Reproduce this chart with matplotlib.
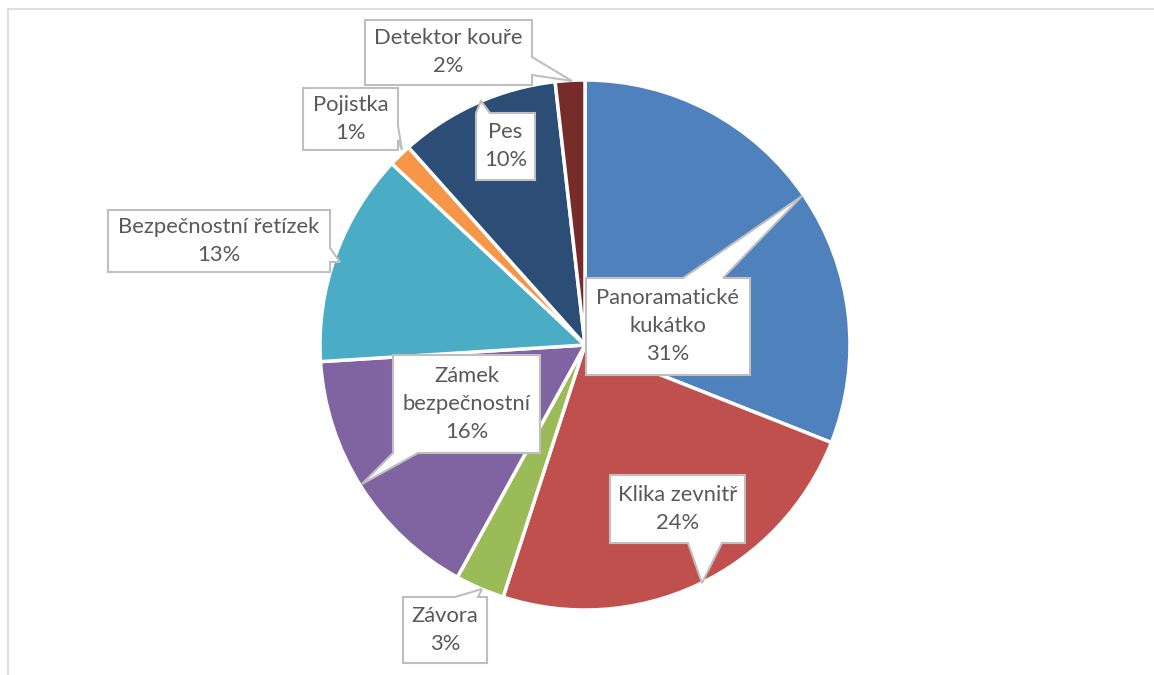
import matplotlib.pyplot as plt
from matplotlib.patches import Polygon, Rectangle

# data
labels = ["Panoramatické\nkukátko", "Klika zevnitř", "Závora", "Zámek\nbezpečnostní",
          "Bezpečnostní řetízek", "Pojistka", "Pes", "Detektor kouře"]
values = [31.0, 24.0, 3.0, 16.0, 13.0, 1.4, 9.8, 1.8]
colors = ["#4F81BD", "#C0504D", "#9BBB59", "#8064A2",
          "#4BACC6", "#F79646", "#2C4D75", "#772C2A"]

# callout layout in pixel coords (y down): box, side of pointer, base along side, tip
callouts = [
    ((586, 278, 750, 375), "top", (683, 723), (802, 196)),
    ((610, 475, 745, 543), "bottom", (688, 722), (702, 583)),
    ((403, 597, 487, 663), "top", (455, 478), (482, 589)),
    ((393, 355, 540, 453), "bottom", (393, 418), (362, 484)),
    ((108, 210, 330, 272), "right", (248, 262), (340, 262)),
    ((303, 88, 398, 150), "right", (126, 140), (402, 150)),
    ((476, 113, 535, 180), "top", (476, 490), (481, 101)),
    ((365, 20, 532, 85), "right", (57, 75), (572, 81)),
]

W, H = 1154, 675
fig = plt.figure(figsize=(W / 100, H / 100), dpi=100)
ax = fig.add_axes([0, 0, 1, 1])

ax.pie(values, colors=colors, startangle=90, counterclock=False,
       center=(585, H - 345), radius=265, frame=True,
       wedgeprops=dict(edgecolor="white", linewidth=2.5))
ax.set_xlim(0, W)
ax.set_ylim(0, H)
ax.axis("off")

# chart area border
ax.add_patch(Rectangle((8, -10), W, H - 9 + 10, fill=False, ec="#D9D9D9", lw=1.2))


def callout(box, side, base, tip, text):
    x0, y0, x1, y1 = box
    b0, b1 = base
    if side == "top":
        pts = [(x0, y0), (b0, y0), tip, (b1, y0), (x1, y0), (x1, y1), (x0, y1)]
    elif side == "bottom":
        pts = [(x0, y0), (x1, y0), (x1, y1), (b1, y1), tip, (b0, y1), (x0, y1)]
    else:  # right
        pts = [(x0, y0), (x1, y0), (x1, b0), tip, (x1, b1), (x1, y1), (x0, y1)]
    pts = [(px, H - py) for px, py in pts]
    ax.add_patch(Polygon(pts, closed=True, fc="white", ec="#BFBFBF", lw=1.5, zorder=5))
    ax.text((x0 + x1) / 2, H - (y0 + y1) / 2, text, ha="center", va="center",
            fontsize=15.8, color="#595959", family=["Lato", "DejaVu Sans"],
            linespacing=1.5, zorder=6)


for lab, val, (box, side, base, tip) in zip(labels, values, callouts):
    callout(box, side, base, tip, f"{lab}\n{round(val):.0f}%")

fig.savefig("out.png", dpi=100)
